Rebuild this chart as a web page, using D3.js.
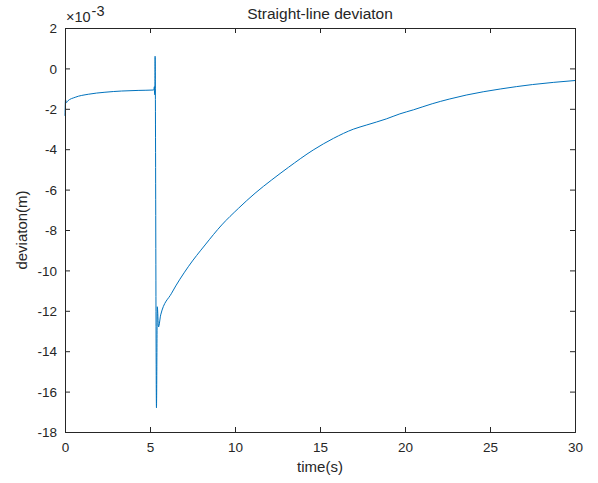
<!DOCTYPE html>
<html>
<head>
<meta charset="utf-8">
<script src="https://cdn.jsdelivr.net/npm/d3@7"></script>
<style>
  html, body { margin: 0; padding: 0; background: #ffffff; }
  svg { display: block; }
  text { font-family: "Liberation Sans", Arial, Helvetica, sans-serif; fill: #262626; }
</style>
</head>
<body>
<div id="chart"></div>
<script>
// time (s)
const timeS = [0, 0.03, 0.08, 0.15, 0.6, 1.37, 2.35, 3.33, 4.3, 5.22,
  5.26, 5.27, 5.29, 5.3, 5.38, 5.43, 5.5, 5.63,
  6.27, 7.25, 8.24, 9.22, 10.2, 11.18, 12.16, 13.14, 14.6, 15.8, 16.96, 17.75, 18.9,
  19.7, 20.5, 21.6, 22.6, 23.6, 25.6, 27.5, 30];
// deviation (x10^-3 m)
const deviation = [-2.35, -1.55, -1.7, -1.62, -1.43, -1.28, -1.18, -1.12, -1.09, -1.07,
  -0.9, -1.3, -1.07, 0.6, -16.8, -11.8, -12.8, -12.2,
  -11.13, -9.82, -8.74, -7.75, -6.93, -6.18, -5.52, -4.9, -4.04, -3.46, -3.01, -2.8, -2.5,
  -2.25, -2.05, -1.75, -1.52, -1.32, -1.02, -0.8, -0.6];
const xTicks = [0, 5, 10, 15, 20, 25, 30];
const yTicks = [-18, -16, -14, -12, -10, -8, -6, -4, -2, 0, 2];

const W = 598, H = 483;
const mLeft = 65, mRight = 575, mTop = 28, mBottom = 432;
const axisColor = "#262626";
const tickLen = 5;

const svg = d3.select("#chart").append("svg").attr("width", W).attr("height", H);

const x = d3.scaleLinear().domain([0, 30]).range([mLeft, mRight]);
const y = d3.scaleLinear().domain([-18, 2]).range([mBottom, mTop]);

// data line
const line = d3.line().curve(d3.curveMonotoneX).x((d, i) => x(timeS[i])).y(d => y(d));
svg.append("path")
  .datum(deviation)
  .attr("d", line)
  .attr("fill", "none")
  .attr("stroke", "#0072BD")
  .attr("stroke-width", 1)
  .attr("stroke-linejoin", "round");

// axes (ticks inward)
const fmt = d => String(d).replace("\u2212", "-");
const gx = svg.append("g").attr("transform", `translate(0,${mBottom})`)
  .call(d3.axisBottom(x).tickValues(xTicks).tickSize(-tickLen).tickPadding(10).tickFormat(fmt));
const gxTop = svg.append("g").attr("transform", `translate(0,${mTop})`)
  .call(d3.axisTop(x).tickValues(xTicks).tickSize(-tickLen).tickFormat(""));
const gy = svg.append("g").attr("transform", `translate(${mLeft},0)`)
  .call(d3.axisLeft(y).tickValues(yTicks).tickSize(-tickLen).tickPadding(8).tickFormat(fmt));
const gyR = svg.append("g").attr("transform", `translate(${mRight},0)`)
  .call(d3.axisRight(y).tickValues(yTicks).tickSize(-tickLen).tickFormat(""));

[gx, gxTop, gy, gyR].forEach(g => {
  g.selectAll("path.domain").attr("stroke", axisColor).attr("stroke-width", 1);
  g.selectAll(".tick line").attr("stroke", axisColor).attr("stroke-width", 1);
  g.selectAll(".tick text").attr("fill", axisColor).style("font-size", "13.5px")
    .style("font-family", '"Liberation Sans", Arial, sans-serif');
});
gy.selectAll(".tick text").attr("dy", "0.35em");

// title
svg.append("text").attr("x", (mLeft + mRight) / 2).attr("y", 19)
  .attr("text-anchor", "middle").style("font-size", "15.5px")
  .text("Straight-line deviaton");

// x label
svg.append("text").attr("x", (mLeft + mRight) / 2).attr("y", 472)
  .attr("text-anchor", "middle").style("font-size", "15px")
  .text("time(s)");

// y label
svg.append("text").attr("transform", `translate(27,${(mTop + mBottom) / 2}) rotate(-90)`)
  .attr("text-anchor", "middle").style("font-size", "15px")
  .text("deviaton(m)");

// exponent
const ex = svg.append("text").attr("x", 66).attr("y", 22).style("font-size", "14.5px");
ex.append("tspan").text("\u00d710");
ex.append("tspan").attr("dy", -6).attr("dx", 1).text("-3");
</script>
</body>
</html>
